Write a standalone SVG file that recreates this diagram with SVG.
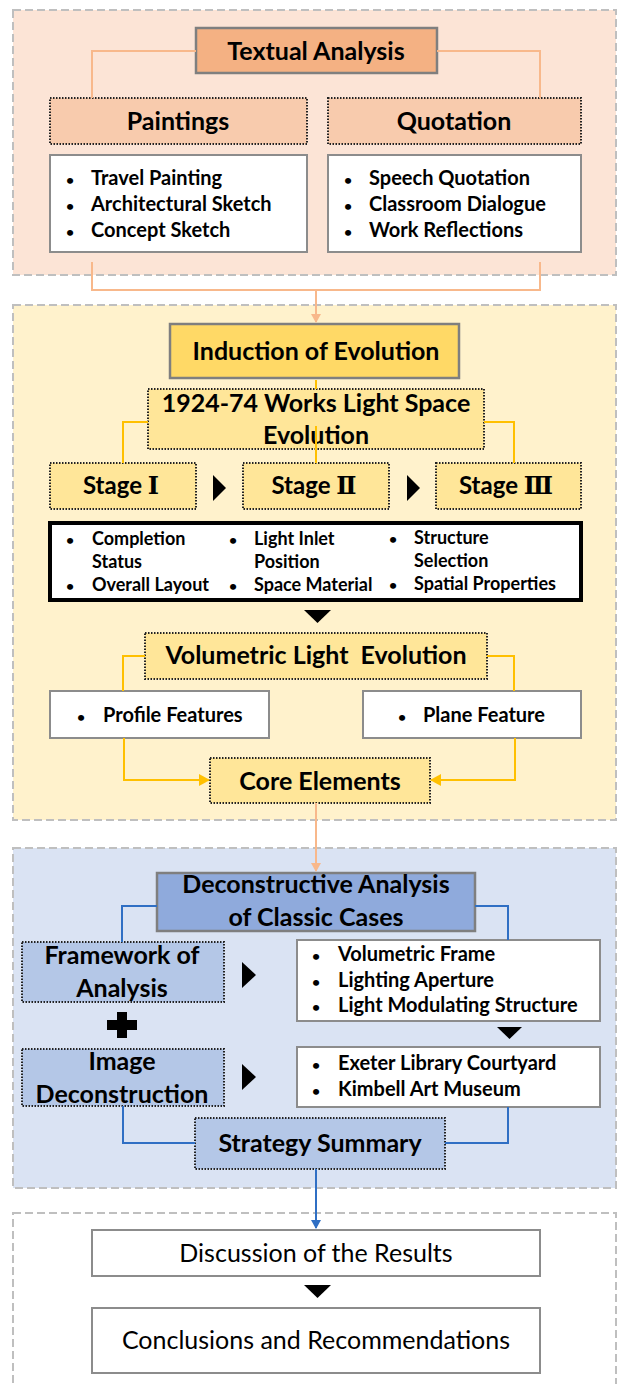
<svg xmlns="http://www.w3.org/2000/svg" width="618" height="1384" viewBox="0 0 618 1384">
<defs>
<style>
text{font-family:Lato,"Open Sans","Noto Sans",sans-serif;fill:#000}
.b{font-weight:bold}
.t25{font-size:25px}
.t24{font-size:24px}
.t20{font-size:20px}
.t18{font-size:18px}
.bu{font-size:14px}
.sec{stroke:#BFBFBF;stroke-width:2;stroke-dasharray:8 4}
.solid{stroke:#7F7F7F;stroke-width:2.5}
.thin{stroke:#8C8C8C;stroke-width:2}
.dot{stroke:#222;stroke-width:2;stroke-dasharray:1.5 1.5}
.orl{stroke:#F8B88B;stroke-width:2;fill:none}
.yl{stroke:#FFC000;stroke-width:2;fill:none}
.bl{stroke:#2F6FC4;stroke-width:2;fill:none}
.rn{font-family:"DejaVu Serif","Liberation Serif",serif;font-weight:bold}
</style>
<marker id="ao" markerWidth="10" markerHeight="10" refX="8" refY="5" orient="auto" markerUnits="userSpaceOnUse"><path d="M0,0 L9,5 L0,10 Z" fill="#F8B88B"/></marker>
<marker id="ay" markerWidth="12" markerHeight="12" refX="10" refY="6" orient="auto" markerUnits="userSpaceOnUse"><path d="M0,0 L11,6 L0,12 Z" fill="#FFC000"/></marker>
<marker id="ab" markerWidth="10" markerHeight="10" refX="8" refY="5" orient="auto" markerUnits="userSpaceOnUse"><path d="M0,0 L9,5 L0,10 Z" fill="#2F6FC4"/></marker>
</defs>

<!-- section backgrounds -->
<g id="section1"><rect x="13" y="10" width="603" height="265" fill="#FCE4D6" class="sec"/></g>
<g id="section2"><rect x="13" y="305" width="603" height="515" fill="#FFF2CC" class="sec"/></g>
<g id="section3"><rect x="13" y="848" width="603" height="340" fill="#DAE3F3" class="sec"/></g>
<g id="section4"><rect x="13" y="1213" width="603" height="190" fill="#FFFFFF" class="sec"/></g>

<g id="textual-analysis"><rect x="196" y="28" width="241" height="45" fill="#F4B183" class="solid"/><text x="316" y="60" text-anchor="middle" class="b t25">Textual Analysis</text></g>
<g id="paintings"><rect x="50" y="98" width="257" height="46" fill="#F8CBAD" class="dot"/><text x="178" y="130" text-anchor="middle" class="b t25">Paintings</text></g>
<g id="quotation"><rect x="328" y="98" width="253" height="46" fill="#F8CBAD" class="dot"/><text x="454" y="130" text-anchor="middle" class="b t25">Quotation</text></g>
<g id="paintings-list"><rect x="50" y="155" width="257" height="97" fill="#FFFFFF" class="thin"/>
<text class="b t20"><tspan class="bu" x="66" y="185">•</tspan><tspan x="91" y="185">Travel Painting</tspan><tspan class="bu" x="66" y="211">•</tspan><tspan x="91" y="211">Architectural Sketch</tspan><tspan class="bu" x="66" y="237">•</tspan><tspan x="91" y="237">Concept Sketch</tspan></text></g>
<g id="quotation-list"><rect x="328" y="155" width="253" height="97" fill="#FFFFFF" class="thin"/>
<text class="b t20"><tspan class="bu" x="344" y="185">•</tspan><tspan x="369" y="185">Speech Quotation</tspan><tspan class="bu" x="344" y="211">•</tspan><tspan x="369" y="211">Classroom Dialogue</tspan><tspan class="bu" x="344" y="237">•</tspan><tspan x="369" y="237">Work Reflections</tspan></text></g>

<g id="induction"><rect x="170" y="324" width="289" height="54" fill="#FFD966" class="solid"/><text x="316" y="360" text-anchor="middle" class="b t25">Induction of Evolution</text></g>
<g id="works-1924"><rect x="148" y="389" width="336" height="60" fill="#FFE699" class="dot"/><text x="316" y="412" text-anchor="middle" class="b t25">1924-74 Works Light Space</text><text x="316" y="444" text-anchor="middle" class="b t25">Evolution</text></g>
<g id="stage1"><rect x="50" y="463" width="146" height="46" fill="#FFE699" class="dot"/><text x="121" y="494" text-anchor="middle" class="b t24">Stage <tspan class="rn">Ⅰ</tspan></text></g>
<g id="stage2"><rect x="243" y="463" width="146" height="46" fill="#FFE699" class="dot"/><text x="314" y="494" text-anchor="middle" class="b t24">Stage <tspan class="rn">Ⅱ</tspan></text></g>
<g id="stage3"><rect x="436" y="463" width="145" height="46" fill="#FFE699" class="dot"/><text x="506" y="494" text-anchor="middle" class="b t24">Stage <tspan class="rn">Ⅲ</tspan></text></g>
<g id="attributes"><rect x="50" y="523" width="531" height="77" fill="#FFFFFF" stroke="#000" stroke-width="4"/>
<text class="b t18"><tspan class="bu" x="66" y="545">•</tspan><tspan x="92" y="545">Completion</tspan><tspan x="92" y="568">Status</tspan><tspan class="bu" x="66" y="591">•</tspan><tspan x="92" y="591">Overall Layout</tspan>
<tspan class="bu" x="229" y="545">•</tspan><tspan x="254" y="545">Light Inlet</tspan><tspan x="254" y="568">Position</tspan><tspan class="bu" x="229" y="591">•</tspan><tspan x="254" y="591">Space Material</tspan>
<tspan class="bu" x="389" y="544">•</tspan><tspan x="414" y="544">Structure</tspan><tspan x="414" y="567">Selection</tspan><tspan class="bu" x="389" y="590">•</tspan><tspan x="414" y="590">Spatial Properties</tspan></text></g>
<g id="volumetric"><rect x="145" y="633" width="342" height="46" fill="#FFE699" class="dot"/><text x="316" y="664" text-anchor="middle" class="b t25" xml:space="preserve">Volumetric Light  Evolution</text></g>
<g id="profile"><rect x="50" y="691" width="219" height="47" fill="#FFFFFF" class="thin"/><text class="b t20"><tspan class="bu" x="77" y="722">•</tspan><tspan x="103" y="722">Profile Features</tspan></text></g>
<g id="plane"><rect x="363" y="691" width="218" height="47" fill="#FFFFFF" class="thin"/><text class="b t20"><tspan class="bu" x="398" y="722">•</tspan><tspan x="423" y="722">Plane Feature</tspan></text></g>
<g id="core"><rect x="210" y="758" width="220" height="45" fill="#FFE699" class="dot"/><text x="320" y="790" text-anchor="middle" class="b t25">Core Elements</text></g>

<g id="deconstructive"><rect x="157" y="873" width="318" height="58" fill="#8FAADC" class="solid"/><text x="316" y="893" text-anchor="middle" class="b t25">Deconstructive Analysis</text><text x="316" y="926" text-anchor="middle" class="b t25">of Classic Cases</text></g>
<g id="framework"><rect x="22" y="942" width="202" height="60" fill="#B4C7E7" class="dot"/><text x="122" y="964" text-anchor="middle" class="b t25">Framework of</text><text x="122" y="997" text-anchor="middle" class="b t25">Analysis</text></g>
<g id="framework-list"><rect x="297" y="940" width="303" height="81" fill="#FFFFFF" class="thin"/>
<text class="b t20"><tspan class="bu" x="312" y="961">•</tspan><tspan x="338" y="961">Volumetric Frame</tspan><tspan class="bu" x="312" y="987">•</tspan><tspan x="338" y="987">Lighting Aperture</tspan><tspan class="bu" x="312" y="1012">•</tspan><tspan x="338" y="1012">Light Modulating Structure</tspan></text></g>
<g id="image-deconstruction"><rect x="22" y="1049" width="202" height="57" fill="#B4C7E7" class="dot"/><text x="122" y="1070" text-anchor="middle" class="b t25">Image</text><text x="122" y="1103" text-anchor="middle" class="b t25">Deconstruction</text></g>
<g id="cases-list"><rect x="297" y="1047" width="303" height="60" fill="#FFFFFF" class="thin"/>
<text class="b t20"><tspan class="bu" x="312" y="1070">•</tspan><tspan x="338" y="1070">Exeter Library Courtyard</tspan><tspan class="bu" x="312" y="1096">•</tspan><tspan x="338" y="1096">Kimbell Art Museum</tspan></text></g>
<g id="strategy"><rect x="195" y="1118" width="250" height="51" fill="#B4C7E7" class="dot"/><text x="320" y="1152" text-anchor="middle" class="b t25">Strategy Summary</text></g>

<g id="discussion"><rect x="92" y="1230" width="448" height="46" fill="#FFFFFF" class="thin"/><text x="316" y="1262" text-anchor="middle" class="t25">Discussion of the Results</text></g>
<g id="conclusions"><rect x="92" y="1308" width="448" height="65" fill="#FFFFFF" class="thin"/><text x="316" y="1349" text-anchor="middle" class="t25">Conclusions and Recommendations</text></g>

<g id="connectors">
<path class="orl" d="M196,51 H92 V98"/>
<path class="orl" d="M437,51 H540 V98"/>
<path class="orl" d="M92,262 V290 H540 V262"/>
<path class="orl" d="M316,290 V322" marker-end="url(#ao)"/>
<path class="yl" d="M316,380 V389"/>
<path class="yl" d="M316,426 V463"/>
<path class="yl" d="M148,422 H123 V463"/>
<path class="yl" d="M484,422 H514 V463"/>
<path class="yl" d="M145,656 H123 V691"/>
<path class="yl" d="M487,656 H514 V691"/>
<path class="yl" d="M124,738 V780 H209" marker-end="url(#ay)"/>
<path class="yl" d="M515,738 V780 H431" marker-end="url(#ay)"/>
<path class="orl" d="M316,803 V871" marker-end="url(#ao)"/>
<path class="bl" d="M157,906 H122 V942"/>
<path class="bl" d="M475,906 H508 V940"/>
<path class="bl" d="M123,1106 V1143 H195"/>
<path class="bl" d="M508,1107 V1143 H445"/>
<path class="bl" d="M316,1169 V1228" marker-end="url(#ab)"/>
<!-- black triangles -->
<path d="M213,475 L226,488 L213,501 Z" fill="#000"/>
<path d="M407,475 L420,488 L407,501 Z" fill="#000"/>
<path d="M304,610 L331,610 L317.5,623 Z" fill="#000"/>
<path d="M242,962 L256,975 L242,988 Z" fill="#000"/>
<path d="M242,1064 L256,1077 L242,1090 Z" fill="#000"/>
<path d="M497,1027 L522,1027 L509.5,1039 Z" fill="#000"/>
<path d="M304,1285 L331,1285 L317.5,1298 Z" fill="#000"/>
<path d="M117,1012 h10 v8 h10 v10 h-10 v8 h-10 v-8 h-10 v-10 h10 Z" fill="#000"/>
</g>
</svg>
